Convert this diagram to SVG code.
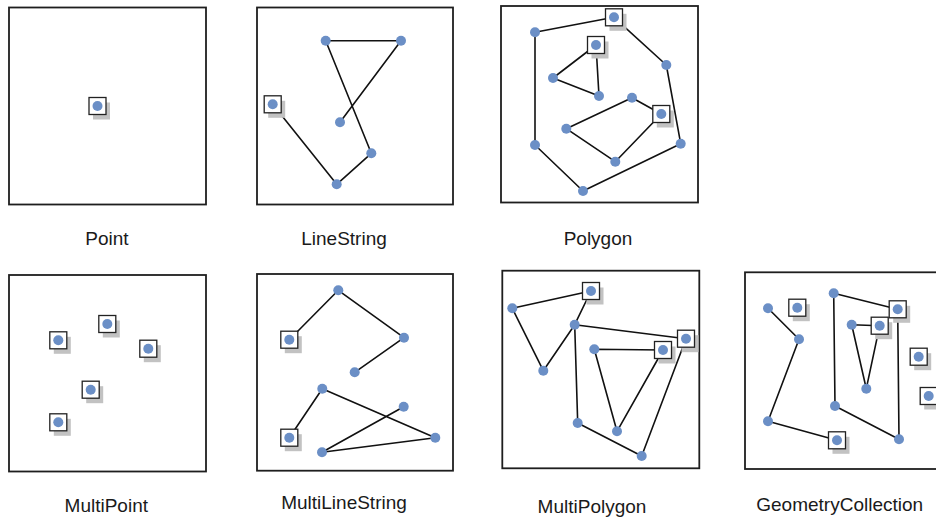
<svg xmlns="http://www.w3.org/2000/svg" xmlns:xlink="http://www.w3.org/1999/xlink" width="936" height="522" viewBox="0 0 936 522">
  <style>
    .frame { fill: #ffffff; stroke: #1e1e1e; stroke-width: 1.8; }
    .edge { fill: none; stroke: #111111; stroke-width: 1.6; stroke-linejoin: round; }
    .dot { fill: #6b8fc6; }
    .shadow { fill: #c2c2c2; }
    .box { fill: #ffffff; stroke: #222222; stroke-width: 1.3; }
    .label { font-family: "Liberation Sans", Arial, sans-serif; font-size: 19px; fill: #1a1a1a; text-anchor: middle; }
  </style>
  <defs>
    <!-- start-vertex marker: shadowed square -->
    <g id="boxed">
      <rect class="shadow" x="-4.5" y="-3.5" width="17" height="17"/>
      <rect class="box" x="-8.5" y="-8.5" width="17" height="17"/>
    </g>
    <circle id="v" class="dot" r="5"/>
  </defs>
  <rect width="936" height="522" fill="#ffffff"/>

  <!-- Point -->
  <g id="point">
    <rect class="frame" x="9" y="7.5" width="197" height="197"/>
    <use href="#boxed" x="97.5" y="106"/>
    <use href="#v" x="97.5" y="106"/>
    <text class="label" x="107" y="245">Point</text>
  </g>

  <!-- LineString -->
  <g id="linestring">
    <rect class="frame" x="257" y="7.5" width="196" height="197"/>
    <g class="connectors">
      <polyline class="edge" points="272.7,104.3 336.7,184.3 371.3,153.3 325.7,40.7 401,40.7 340,122.3"/>
    </g>
    <use href="#boxed" x="272.7" y="104.3"/>
    <use href="#v" x="272.7" y="104.3"/>
    <use href="#v" x="336.7" y="184.3"/>
    <use href="#v" x="371.3" y="153.3"/>
    <use href="#v" x="325.7" y="40.7"/>
    <use href="#v" x="401" y="40.7"/>
    <use href="#v" x="340" y="122.3"/>
    <text class="label" x="344" y="245">LineString</text>
  </g>

  <!-- Polygon with two holes -->
  <g id="polygon">
    <rect class="frame" x="501" y="6" width="197" height="196.5"/>
    <g class="connectors">
      <polygon class="edge" points="614,17.3 666.3,65 680.7,143.7 583,191 535,145 535,32.3"/>
      <polygon class="edge" points="596,45 599,96 553,78"/>
      <polygon class="edge" points="661.3,114 615.3,161.7 566.3,128.7 632,97.7"/>
    </g>
    <use href="#boxed" x="614" y="17.3"/>
    <use href="#boxed" x="596" y="45"/>
    <use href="#boxed" x="661.3" y="114"/>
    <use href="#v" x="614" y="17.3"/>
    <use href="#v" x="666.3" y="65"/>
    <use href="#v" x="680.7" y="143.7"/>
    <use href="#v" x="583" y="191"/>
    <use href="#v" x="535" y="145"/>
    <use href="#v" x="535" y="32.3"/>
    <use href="#v" x="596" y="45"/>
    <use href="#v" x="599" y="96"/>
    <use href="#v" x="553" y="78"/>
    <use href="#v" x="661.3" y="114"/>
    <use href="#v" x="615.3" y="161.7"/>
    <use href="#v" x="566.3" y="128.7"/>
    <use href="#v" x="632" y="97.7"/>
    <text class="label" x="598" y="245">Polygon</text>
  </g>

  <!-- MultiPoint -->
  <g id="multipoint">
    <rect class="frame" x="9" y="275" width="197" height="196.5"/>
    <use href="#boxed" x="58.3" y="340.3"/>
    <use href="#boxed" x="107.3" y="324"/>
    <use href="#boxed" x="148.3" y="348.7"/>
    <use href="#boxed" x="90.7" y="389.7"/>
    <use href="#boxed" x="58.3" y="422.3"/>
    <use href="#v" x="58.3" y="340.3"/>
    <use href="#v" x="107.3" y="324"/>
    <use href="#v" x="148.3" y="348.7"/>
    <use href="#v" x="90.7" y="389.7"/>
    <use href="#v" x="58.3" y="422.3"/>
    <text class="label" x="106.3" y="511.5">MultiPoint</text>
  </g>

  <!-- MultiLineString -->
  <g id="multilinestring">
    <rect class="frame" x="257" y="274" width="196" height="196.7"/>
    <g class="connectors">
      <polyline class="edge" points="289.3,339.7 338.3,290.3 404,337.7 354.7,372.3"/>
      <polyline class="edge" points="289.3,437.7 322.3,388.7 435.3,437.7 322,452.3 403.7,406.7"/>
    </g>
    <use href="#boxed" x="289.3" y="339.7"/>
    <use href="#boxed" x="289.3" y="437.7"/>
    <use href="#v" x="289.3" y="339.7"/>
    <use href="#v" x="338.3" y="290.3"/>
    <use href="#v" x="404" y="337.7"/>
    <use href="#v" x="354.7" y="372.3"/>
    <use href="#v" x="289.3" y="437.7"/>
    <use href="#v" x="322.3" y="388.7"/>
    <use href="#v" x="435.3" y="437.7"/>
    <use href="#v" x="322" y="452.3"/>
    <use href="#v" x="403.7" y="406.7"/>
    <text class="label" x="344" y="509">MultiLineString</text>
  </g>

  <!-- MultiPolygon -->
  <g id="multipolygon">
    <rect class="frame" x="502.3" y="270.7" width="197" height="197.6"/>
    <g class="connectors">
      <polygon class="edge" points="591,291 512.3,308.3 543.3,370.7 574.7,324.7"/>
      <polygon class="edge" points="686,338.7 641.7,456 577.7,423 574.7,324.7"/>
      <polygon class="edge" points="663,350 594.3,349.3 617,431.3"/>
    </g>
    <use href="#boxed" x="591" y="291"/>
    <use href="#boxed" x="686" y="338.7"/>
    <use href="#boxed" x="663" y="350"/>
    <use href="#v" x="591" y="291"/>
    <use href="#v" x="512.3" y="308.3"/>
    <use href="#v" x="543.3" y="370.7"/>
    <use href="#v" x="574.7" y="324.7"/>
    <use href="#v" x="686" y="338.7"/>
    <use href="#v" x="641.7" y="456"/>
    <use href="#v" x="577.7" y="423"/>
    <use href="#v" x="663" y="350"/>
    <use href="#v" x="594.3" y="349.3"/>
    <use href="#v" x="617" y="431.3"/>
    <text class="label" x="592" y="513">MultiPolygon</text>
  </g>

  <!-- GeometryCollection -->
  <g id="geometrycollection">
    <rect class="frame" x="745" y="272.3" width="197" height="196.7"/>
    <g class="connectors">
      <polyline class="edge" points="837,440.3 768,421.3 799,339.3 768,308.3"/>
      <polygon class="edge" points="897.7,309.3 833.7,293.3 835,406 899,439.3"/>
      <polygon class="edge" points="879.7,325.7 851.7,324.7 866.3,388.7"/>
    </g>
    <use href="#boxed" x="797.3" y="307.7"/>
    <use href="#boxed" x="918.7" y="356.7"/>
    <use href="#boxed" x="928.7" y="396"/>
    <use href="#boxed" x="837" y="440.3"/>
    <use href="#boxed" x="897.7" y="309.3"/>
    <use href="#boxed" x="879.7" y="325.7"/>
    <use href="#v" x="797.3" y="307.7"/>
    <use href="#v" x="918.7" y="356.7"/>
    <use href="#v" x="928.7" y="396"/>
    <use href="#v" x="837" y="440.3"/>
    <use href="#v" x="768" y="421.3"/>
    <use href="#v" x="799" y="339.3"/>
    <use href="#v" x="768" y="308.3"/>
    <use href="#v" x="897.7" y="309.3"/>
    <use href="#v" x="833.7" y="293.3"/>
    <use href="#v" x="835" y="406"/>
    <use href="#v" x="899" y="439.3"/>
    <use href="#v" x="879.7" y="325.7"/>
    <use href="#v" x="851.7" y="324.7"/>
    <use href="#v" x="866.3" y="388.7"/>
    <text class="label" x="839.7" y="511">GeometryCollection</text>
  </g>
</svg>
